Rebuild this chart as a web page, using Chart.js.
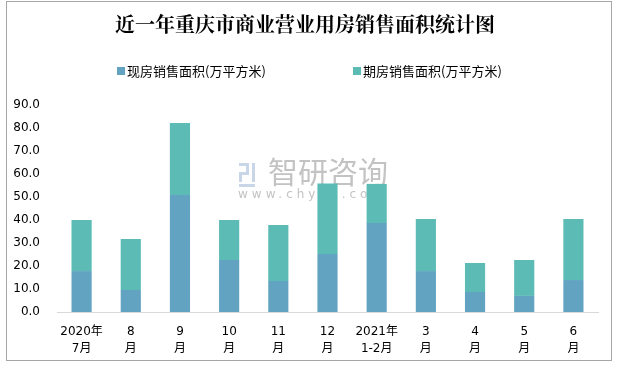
<!DOCTYPE html>
<html>
<head>
<meta charset="utf-8">
<script src="https://cdn.jsdelivr.net/npm/chart.js"></script>
<style>
  body { margin: 0; background: #fff; }
  #wrap { position: relative; width: 617px; height: 365px; }
  #myChart { display: block; }
  #frame { position: absolute; left: 6px; top: 1px; width: 606px; height: 360px; border: 1px solid #a6a6a6; box-sizing: border-box; pointer-events: none; }
</style>
</head>
<body>
<div id="wrap">
  <canvas id="myChart" width="617" height="365"></canvas>
  <div id="frame"></div>
</div>
<script>
var categories = [["2020年", "7月"], ["8", "月"], ["9", "月"], ["10", "月"], ["11", "月"], ["12", "月"], ["2021年", "1-2月"], ["3", "月"], ["4", "月"], ["5", "月"], ["6", "月"]];
var existingArea = [17.8, 9.6, 50.9, 22.6, 13.5, 25.2, 38.7, 17.8, 8.7, 7.0, 13.9];
var futureArea = [22.2, 22.1, 31.3, 17.4, 24.3, 30.7, 17.0, 22.6, 12.6, 15.6, 26.5];
var seriesNames = ["现房销售面积(万平方米)", "期房销售面积(万平方米)"];
var seriesColors = ["#62a3c2", "#5cbcb5"];

var cjk = '"Noto Sans CJK SC", "Microsoft YaHei", sans-serif';

// watermark behind the bars
var watermark = {
    id: "watermark",
    beforeDatasetsDraw: function (chart) {
        var ctx = chart.ctx;
        ctx.save();
        ctx.fillStyle = "#c9d6e8";
        ctx.fillRect(239, 163, 10, 3);
        ctx.fillRect(246, 163, 3, 12);
        ctx.fillRect(239, 172, 10, 3);
        ctx.fillRect(239, 172, 3, 10);
        ctx.fillRect(252, 163, 3, 19);
        ctx.fillRect(239, 184, 16, 3);
        ctx.fillStyle = "#c3c3c3";
        ctx.font = "30px " + cjk;
        ctx.textBaseline = "middle";
        ctx.textAlign = "left";
        ctx.fillText("智研咨询", 268, 172);
        ctx.font = "12px 'DejaVu Sans'";
        ctx.letterSpacing = "4px";
        ctx.fillText("www.chyxx.com", 238, 195);
        ctx.restore();
    }
};

// legend drawn by hand so the wide gap between items matches
var legendBoxes = {
    id: "legendBoxes",
    afterDraw: function (chart) {
        var ctx = chart.ctx;
        var xs = [117, 353];
        ctx.save();
        ctx.font = "13px " + cjk;
        ctx.textBaseline = "middle";
        ctx.textAlign = "left";
        for (var i = 0; i < seriesNames.length; i++) {
            ctx.fillStyle = seriesColors[i];
            ctx.fillRect(xs[i], 67, 8, 8);
            ctx.fillStyle = "#000";
            ctx.fillText(seriesNames[i], xs[i] + 10, 71);
        }
        ctx.restore();
    }
};

var myChart = document.getElementById("myChart").getContext("2d");
var massPopChart = new Chart(myChart, {
    type: "bar",
    data: {
        labels: categories,
        datasets: [{
            label: seriesNames[0],
            data: existingArea,
            backgroundColor: seriesColors[0],
            barPercentage: 0.41,
            categoryPercentage: 1
        }, {
            label: seriesNames[1],
            data: futureArea,
            backgroundColor: seriesColors[1],
            barPercentage: 0.41,
            categoryPercentage: 1
        }]
    },
    plugins: [watermark, legendBoxes],
    options: {
        responsive: false,
        animation: false,
        layout: {
            padding: { left: 12, right: 19, top: 0, bottom: 3 }
        },
        plugins: {
            title: {
                display: true,
                text: "近一年重庆市商业营业用房销售面积统计图",
                color: "#000",
                font: { family: '"Noto Serif CJK SC", "Noto Sans CJK SC", serif', size: 20, weight: "bold", lineHeight: 1.2 },
                padding: { top: 12, bottom: 69 }
            },
            legend: { display: false },
            tooltip: { enabled: false }
        },
        scales: {
            x: {
                stacked: true,
                afterFit: function (scale) { scale.height = 50; },
                grid: { display: false, drawTicks: false },
                border: { display: true, color: "#d9d9d9", width: 1 },
                ticks: {
                    color: "#000",
                    padding: 11,
                    maxRotation: 0,
                    autoSkip: false,
                    font: { family: '"DejaVu Sans", ' + cjk, size: 12, lineHeight: 1.45 }
                }
            },
            y: {
                stacked: true,
                min: 0,
                max: 90,
                afterFit: function (scale) { scale.width = 45; },
                grid: { display: false, drawTicks: false },
                border: { display: false },
                ticks: {
                    stepSize: 10,
                    color: "#000",
                    padding: 17,
                    font: { family: "DejaVu Sans", size: 12 },
                    callback: function (v) { return v.toFixed(1); }
                }
            }
        }
    }
});
</script>
</body>
</html>
